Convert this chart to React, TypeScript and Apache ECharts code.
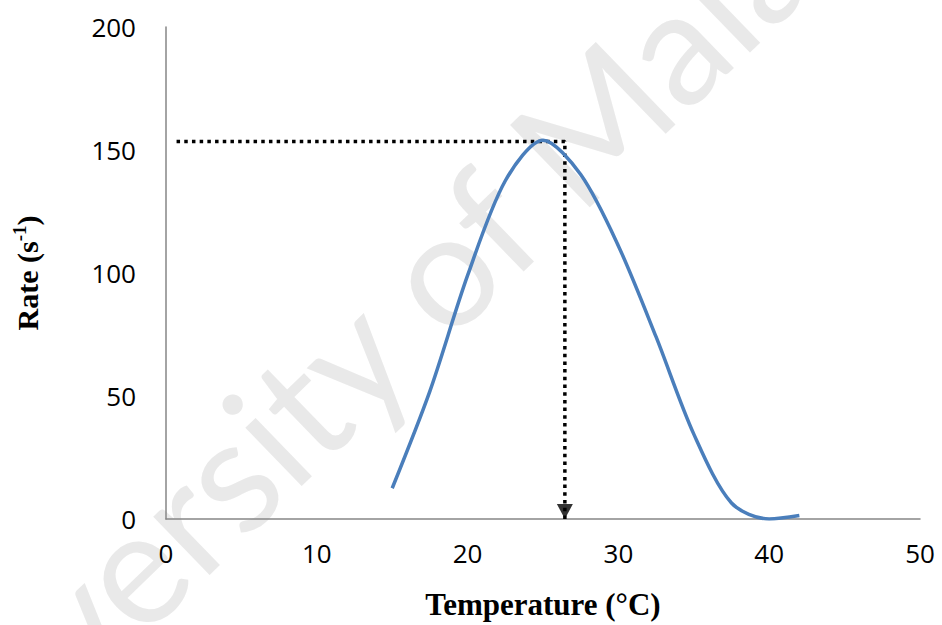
import React, { useEffect, useRef } from 'react';
import * as echarts from 'echarts';

// Curve values
const temperature = [15, 17.5, 20, 22.5, 25, 27.5, 30, 32.5, 35, 37.5, 40, 42];
const rate = [12.5, 52, 99, 137.5, 154, 140, 111, 74, 34.5, 6.5, 0, 1.4];

// Axis ticks
const xTicks = [0, 10, 20, 30, 40, 50];
const yTicks = [0, 50, 100, 150, 200];

// Dotted guide (optimum temperature)
const guideX = [0.7, 26.45, 26.45];
const guideY = [153.5, 153.5, 0];
const arrowX = [26.45];
const arrowY = [0];

const watermarkText = 'University of Malaya';

export default function App() {
  const ref = useRef<HTMLDivElement>(null);

  useEffect(() => {
    if (!ref.current) return;
    const chart = echarts.init(ref.current, undefined, { renderer: 'svg' });
    const tickFont = '"Open Sans", sans-serif';
    const serif = '"Liberation Serif", "Times New Roman", serif';

    chart.setOption({
      animation: false,
      backgroundColor: '#ffffff',
      grid: { left: 166, right: 22, top: 27, bottom: 104, containLabel: false },
      graphic: {
        elements: [
          {
            type: 'text',
            z: -10,
            x: 381,
            y: 323,
            rotation: (44 * Math.PI) / 180,
            style: {
              text: watermarkText,
              fill: 'rgba(200,200,200,0.4)',
              font: '160px Lato, sans-serif',
              align: 'center',
              verticalAlign: 'middle',
            },
            silent: true,
          },
        ],
      },
      xAxis: {
        type: 'value',
        min: xTicks[0],
        max: xTicks[xTicks.length - 1],
        interval: xTicks[1] - xTicks[0],
        name: 'Temperature (°C)',
        nameLocation: 'middle',
        nameGap: 70,
        nameTextStyle: { fontFamily: serif, fontWeight: 'bold', fontSize: 31, color: '#000' },
        axisLine: { show: true, lineStyle: { color: '#868686', width: 1.5 } },
        axisTick: { show: false },
        splitLine: { show: false },
        axisLabel: { margin: 21, fontFamily: tickFont, fontSize: 26, color: '#000' },
      },
      yAxis: {
        type: 'value',
        min: yTicks[0],
        max: yTicks[yTicks.length - 1],
        interval: yTicks[1] - yTicks[0],
        name: '{a|Rate (s}{b|-1}{a|)}',
        nameLocation: 'middle',
        nameGap: 122,
        nameTextStyle: {
          rich: {
            a: { fontFamily: serif, fontWeight: 'bold', fontSize: 30, color: '#000', lineHeight: 34 },
            b: { fontFamily: serif, fontWeight: 'bold', fontSize: 19, color: '#000', lineHeight: 34, verticalAlign: 'top' },
          },
        },
        axisLine: { show: true, lineStyle: { color: '#868686', width: 1.5 } },
        axisTick: { show: false },
        splitLine: { show: false },
        axisLabel: { margin: 30, fontFamily: tickFont, fontSize: 26, color: '#000' },
      },
      series: [
        {
          type: 'line',
          name: 'guide',
          data: guideX.map((x, i) => [x, guideY[i]]),
          symbol: 'none',
          z: 3,
          lineStyle: { color: '#000', width: 3.5, type: [3.5, 4.2], cap: 'butt' },
        },
        {
          type: 'scatter',
          name: 'arrow',
          data: arrowX.map((x, i) => [x, arrowY[i]]),
          symbol: 'triangle',
          symbolSize: [16, 15],
          symbolRotate: 180,
          symbolOffset: [0, -7.5],
          itemStyle: { color: '#000' },
          z: 4,
        },
        {
          type: 'line',
          name: 'Rate',
          data: temperature.map((t, i) => [t, rate[i]]),
          smooth: 0.3,
          symbol: 'none',
          z: 5,
          lineStyle: { color: '#4A7EBB', width: 3.5 },
        },
      ],
    });

    return () => chart.dispose();
  }, []);

  return <div ref={ref} style={{ width: 942, height: 625, position: 'absolute', left: 0, top: 0 }} />;
}
